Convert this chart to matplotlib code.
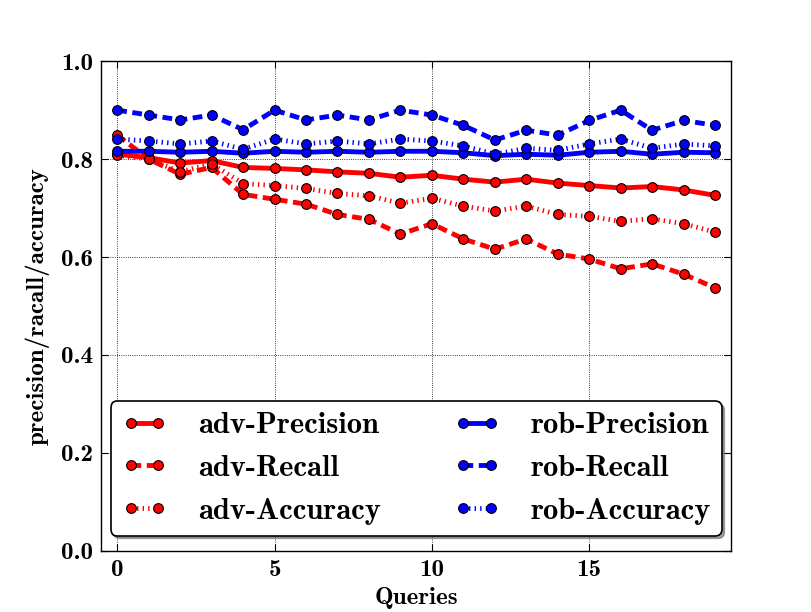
import numpy as np
import matplotlib
matplotlib.use("Agg")
import matplotlib.pyplot as plt

# values
queries = np.arange(20)

adv_precision = [0.810, 0.803, 0.792, 0.797, 0.783, 0.781, 0.778, 0.774, 0.771, 0.763,
                 0.767, 0.759, 0.753, 0.759, 0.751, 0.746, 0.741, 0.744, 0.737, 0.726]
adv_recall = [0.849, 0.800, 0.769, 0.783, 0.728, 0.718, 0.708, 0.687, 0.677, 0.647,
              0.668, 0.637, 0.616, 0.637, 0.606, 0.596, 0.576, 0.586, 0.565, 0.537]
adv_accuracy = [0.808, 0.800, 0.774, 0.790, 0.750, 0.746, 0.740, 0.730, 0.725, 0.710,
                0.720, 0.704, 0.694, 0.704, 0.687, 0.683, 0.673, 0.678, 0.668, 0.651]

rob_precision = [0.816, 0.816, 0.814, 0.816, 0.812, 0.816, 0.814, 0.816, 0.814, 0.816,
                 0.816, 0.813, 0.807, 0.810, 0.808, 0.814, 0.816, 0.810, 0.814, 0.813]
rob_recall = [0.900, 0.890, 0.880, 0.890, 0.860, 0.900, 0.880, 0.890, 0.880, 0.900,
              0.890, 0.869, 0.839, 0.859, 0.849, 0.879, 0.900, 0.859, 0.879, 0.869]
rob_accuracy = [0.841, 0.837, 0.831, 0.837, 0.820, 0.841, 0.831, 0.837, 0.831, 0.841,
                0.837, 0.827, 0.810, 0.822, 0.818, 0.831, 0.841, 0.822, 0.831, 0.827]

plt.rcParams['font.family'] = ['cmb10', 'DejaVu Serif']
plt.rcParams['axes.unicode_minus'] = False
plt.rcParams['font.size'] = 18

fig = plt.figure(figsize=(8.12, 6.12), dpi=100)
ax = fig.add_axes([0.125, 0.1, 0.775, 0.8])

dash = (7, 4)
dot = (1, 3)
style = dict(lw=3.5, marker='o', ms=7, mec='black', mew=0.8)

series = [
    (adv_precision, 'red', None, 'adv-Precision'),
    (adv_recall, 'red', dash, 'adv-Recall'),
    (adv_accuracy, 'red', dot, 'adv-Accuracy'),
    (rob_precision, 'blue', None, 'rob-Precision'),
    (rob_recall, 'blue', dash, 'rob-Recall'),
    (rob_accuracy, 'blue', dot, 'rob-Accuracy'),
]
for ys, col, d, lab in series:
    line, = ax.plot(queries, ys, color=col, mfc=col, label=lab, **style)
    if d is not None:
        line.set_linestyle((0, tuple(v / 3.5 for v in d)))
        line.set_dash_capstyle('butt')

ax.set_xlim(-0.5, 19.5)
ax.set_ylim(0.0, 1.0)
ax.set_xticks([0, 5, 10, 15])
ax.set_yticks([0.0, 0.2, 0.4, 0.6, 0.8, 1.0])
ax.tick_params(direction='in', top=True, right=True, length=5, labelsize=18, pad=6)
ax.grid(True, color='black', linestyle=':', lw=0.6)
for s in ax.spines.values():
    s.set_linewidth(1.0)

ax.set_xlabel('Queries', fontsize=18, labelpad=4)
ax.set_ylabel('precision/racall/accuracy', fontsize=18, labelpad=8)

leg = ax.legend(loc='lower center', ncol=2, fontsize=22, fancybox=True, shadow=True,
                numpoints=2, handlelength=1.5, handletextpad=1.0, labelspacing=0.5,
                columnspacing=2.4, borderpad=0.35, framealpha=1.0)
leg.get_frame().set_edgecolor('black')
leg.get_frame().set_linewidth(1.2)

fig.savefig('out.png', dpi=100, facecolor='white')
